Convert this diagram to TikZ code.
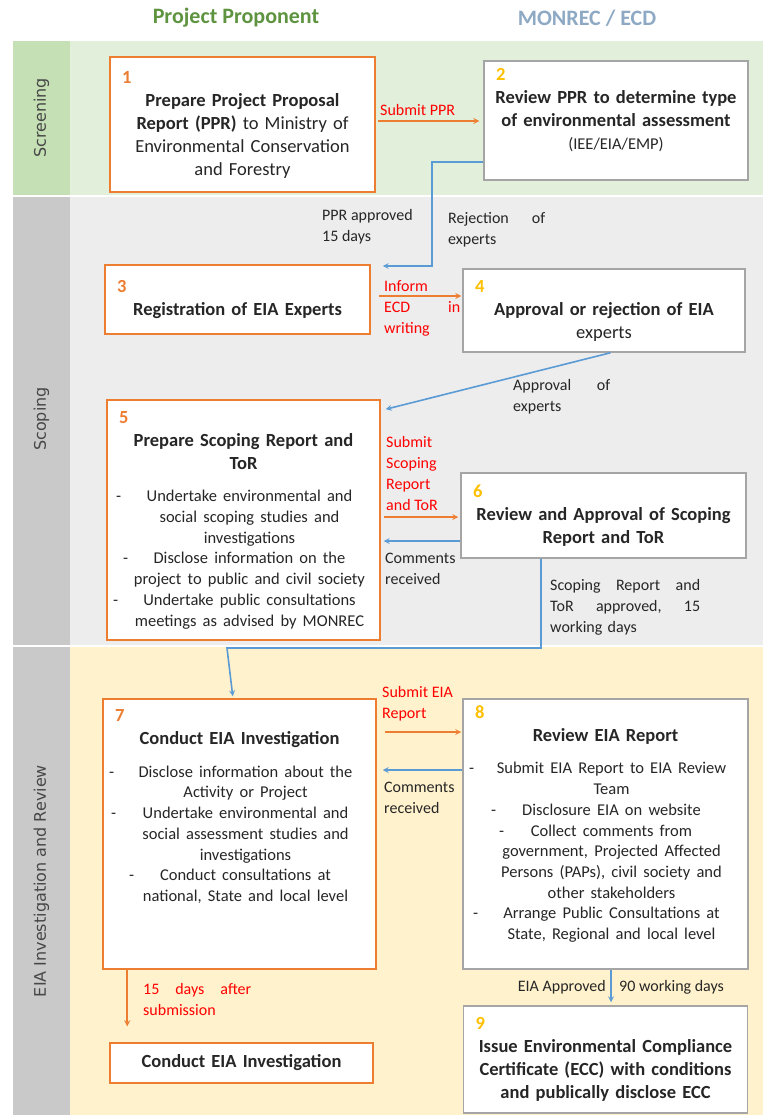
\documentclass[tikz,border=0pt]{standalone}
\usepackage{fontspec}
\setmainfont{Carlito}
\newfontfamily\lanefont{DejaVu Sans}
\usepackage{xcolor}
\usetikzlibrary{shapes,arrows,positioning,calc}

\definecolor{orangeb}{HTML}{ED7D31}
\definecolor{yellown}{HTML}{FFC000}
\definecolor{labred}{HTML}{FF0000}
\definecolor{bluea}{HTML}{5B9BD5}
\definecolor{grayb}{HTML}{A5A5A5}
\definecolor{greenhead}{HTML}{5E9340}
\definecolor{bluehead}{HTML}{8EA9C4}
\definecolor{screenbg}{HTML}{E2EFDA}
\definecolor{screenbar}{HTML}{C5E0B4}
\definecolor{scopebg}{HTML}{EDEDED}
\definecolor{lanegray}{HTML}{C9C9C9}
\definecolor{eiabg}{HTML}{FFF2CC}
\definecolor{textc}{HTML}{262626}

% step number, bullet font and bullet line with a dash at the left
\newcommand{\stepno}[2]{\makebox[\hsize][l]{\hspace*{6pt}\textcolor{#1}{\bfseries #2}}\par}
\newcommand{\bfont}{\fontsize{16.5}{20.7}\selectfont}
\newcommand{\bul}[2][0pt]{\par\makebox[\hsize][l]{\hspace*{#1}-}\par\vspace{-\baselineskip}{\advance\leftskip 12pt\relax #2\par}}

\begin{document}
\begin{tikzpicture}[
    x=1pt, y=-1pt,
    propbox/.style={rectangle, draw=orangeb, line width=1.5pt, fill=white, inner sep=6pt, align=center, text=textc, font=\fontsize{18.5}{23}\selectfont},
    revbox/.style={propbox, draw=grayb},
    lab/.style={inner sep=0pt, align=left, text=textc, font=\fontsize{16}{21}\selectfont},
    redlab/.style={lab, text=labred},
    lanetext/.style={rotate=90, text=textc!85, font=\lanefont\fontsize{16}{19}\selectfont},
    head/.style={font=\fontsize{22}{26}\selectfont\bfseries},
    oarrow/.style={->, >=stealth, draw=orangeb, line width=1.6pt},
    barrow/.style={->, >=stealth, draw=bluea, line width=1.6pt}
]
    \useasboundingbox (0,0) rectangle (763,1115);

    % Lanes
    \fill[screenbar] (13,41) rectangle (70,195);
    \fill[screenbg] (70,41) rectangle (763,195);
    \fill[lanegray] (13,197) rectangle (70,645);
    \fill[scopebg] (70,197) rectangle (763,645);
    \fill[lanegray] (13,647) rectangle (70,1115);
    \fill[eiabg] (70,647) rectangle (763,1115);
    \node[lanetext] (lscreen) at (41.5,118) {Screening};
    \node[lanetext] (lscope) at (41.5,419) {Scoping};
    \node[lanetext] (leia) at (41.5,881) {EIA Investigation and Review};

    % Headers
    \node[head, text=greenhead] (hprop) at (236,18) {Project Proponent};
    \node[head, text=bluehead] (hmon) at (587,18) {MONREC / ECD};

    % Steps
    \node[propbox, text width=253pt, minimum height=135pt] (b1) at (242.5,124.5)
        {\stepno{orangeb}{1}\textbf{Prepare Project Proposal}\\\textbf{Report (PPR)} to Ministry of\\Environmental Conservation\\and Forestry};
    \node[revbox, text width=252pt, minimum height=119pt] (b2) at (616,120.5)
        {\stepno{yellown}{2}\textbf{Review PPR to determine type}\\\textbf{of environmental assessment}\\{\fontsize{16.5}{24}\selectfont (IEE/EIA/EMP)}\par\mbox{}};
    \node[propbox, text width=253pt, minimum height=69pt] (b3) at (237.5,299.5)
        {\stepno{orangeb}{3}\textbf{Registration of EIA Experts}};
    \node[revbox, text width=270pt, minimum height=83pt] (b4) at (604,310.5)
        {\stepno{yellown}{4}\textbf{Approval or rejection of EIA}\\experts};
    \node[propbox, text width=261pt, minimum height=240pt] (b5) at (243.5,520)
        {\stepno{orangeb}{5}\textbf{Prepare Scoping Report and}\\\textbf{ToR}\par\vspace{12pt}\bfont
         \bul[3pt]{Undertake environmental and\\social scoping studies and\\investigations}
         \bul[10pt]{Disclose information on the\\project to public and civil society}
         \bul{Undertake public consultations\\meetings as advised by MONREC}};
    \node[revbox, text width=273pt, minimum height=85pt] (b6) at (603.5,515.5)
        {\stepno{yellown}{6}\textbf{Review and Approval of Scoping}\\\textbf{Report and ToR}};
    \node[propbox, text width=261pt, minimum height=270pt] (b7) at (239.5,834)
        {\stepno{orangeb}{7}\textbf{Conduct EIA Investigation}\par\vspace{12pt}\bfont
         \bul{Disclose information about the\\Activity or Project}
         \bul[2pt]{Undertake environmental and\\social assessment studies and\\investigations}
         \bul[20pt]{Conduct consultations at\\national, State and local level}
         \par\rule{0pt}{54pt}};
    \node[revbox, text width=273pt, minimum height=270pt] (b8) at (605.5,834)
        {\stepno{yellown}{8}\textbf{Review EIA Report}\par\vspace{12pt}\bfont
         \bul{Submit EIA Report to EIA Review\\Team}
         \bul[22pt]{Disclosure EIA on website}
         \bul[30pt]{Collect comments from\\government, Projected Affected\\Persons (PAPs), civil society and\\other stakeholders}
         \bul[4pt]{Arrange Public Consultations at\\State, Regional and local level}
         \par\mbox{}};
    \node[propbox, text width=251pt, minimum height=40pt] (b10) at (241.5,1063)
        {\textbf{Conduct EIA Investigation}};
    \node[revbox, text width=272pt, minimum height=107pt] (b9) at (605.5,1059.5)
        {\stepno{yellown}{9}\textbf{Issue Environmental Compliance}\\\textbf{Certificate (ECC) with conditions}\\\textbf{and publically disclose ECC}};

    % Screening arrows
    \draw[oarrow, shorten <=2pt, shorten >=4pt] (b1.east |- 0,121) -- (b2.west |- 0,121);
    \node[redlab, anchor=west] (lsubppr) at (380,110) {Submit PPR};
    \draw[barrow, shorten >=12pt] (b2.west |- 0,162) -| (432,266) -- (b3.east |- 0,266);
    \node[lab, anchor=west] (lppr) at (322,227) {PPR approved\\15 days};
    \node[lab, anchor=west, text width=97pt] (lrej) at (448,230) {Rejection\hfill of\\experts};

    % Scoping arrows
    \draw[oarrow, shorten <=8pt, shorten >=1pt] (b3.east |- 0,296) -- (b4.west |- 0,296);
    \node[redlab, anchor=west, text width=76pt] (linform) at (384,308) {Inform\\ECD\hfill in\\writing};
    \draw[barrow] ([xshift=6.5pt]b4.south) -- ([shift={(5pt,-10pt)}]b5.north east);
    \node[lab, anchor=west, text width=97pt] (lappr) at (513,397) {Approval\hfill of\\experts};
    \draw[oarrow, shorten <=3pt, shorten >=2pt] (b5.east |- 0,517) -- (b6.west |- 0,517);
    \node[redlab, anchor=west] (lsubsc) at (386,473.5) {Submit\\Scoping\\Report\\and ToR};
    \draw[barrow, shorten >=3pt] (b6.west |- 0,541) -- (b5.east |- 0,541);
    \node[lab, anchor=west] (lcom1) at (385,569) {Comments\\received};
    \draw[barrow, shorten >=2pt] ([xshift=-62.5pt]b6.south) |- (227,648) -- ([xshift=-6.5pt]b7.north);
    \node[lab, anchor=west, text width=150pt] (lscapp) at (550,607.5) {Scoping\hfill Report\hfill and\\ToR\hfill approved,\hfill 15\\working days};

    % EIA arrows
    \draw[oarrow, shorten <=8pt, shorten >=1pt] (b7.east |- 0,732) -- (b8.west |- 0,732);
    \node[redlab, anchor=west] (lsubeia) at (382,703.5) {Submit EIA\\Report};
    \draw[barrow, shorten >=6pt] (b8.west |- 0,770) -- (b7.east |- 0,770);
    \node[lab, anchor=west] (lcom2) at (384,797.5) {Comments\\received};
    \draw[oarrow, shorten >=16pt] ([xshift=25pt]b7.south west) -- ([xshift=18pt]b10.north west);
    \node[redlab, anchor=west, text width=108pt] (l15) at (143,999.5) {15\hfill days\hfill after\\submission};
    \draw[barrow, shorten >=3pt] ([xshift=5.5pt]b8.south) -- ([xshift=5.5pt]b9.north);
    \node[lab, anchor=east] (leiaapp) at (606,987) {EIA Approved};
    \node[lab, anchor=west] (l90) at (619,987) {90 working days};
\end{tikzpicture}
\end{document}
